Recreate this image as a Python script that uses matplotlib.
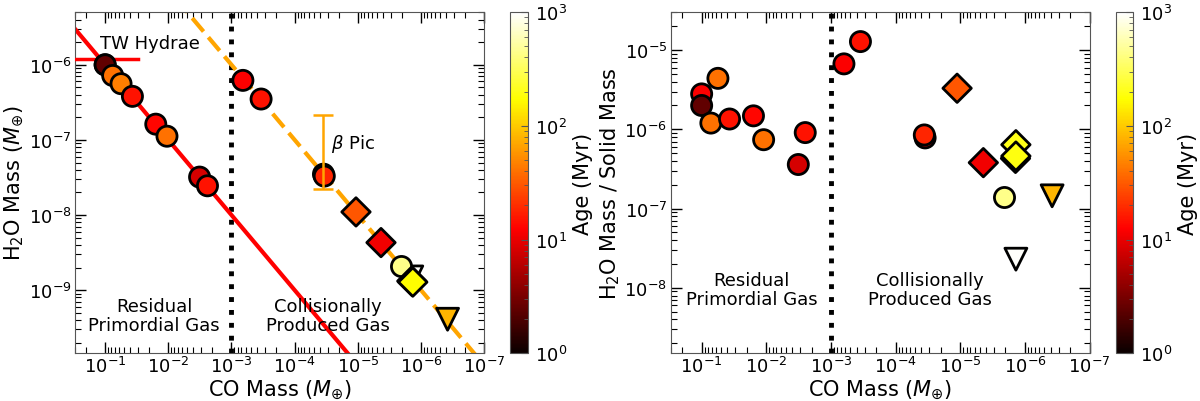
import numpy as np
import matplotlib
matplotlib.use('Agg')
import matplotlib.pyplot as plt
from matplotlib.colors import LogNorm

# ---- data ----
# left panel: CO mass vs H2O mass
prim_co = [0.1, 0.1, 0.076, 0.056, 0.037, 0.0158, 0.0105, 0.0032, 0.0024]
prim_h2o = [1.0e-6, 1.0e-6, 7.2e-7, 5.6e-7, 3.8e-7, 1.62e-7, 1.12e-7, 3.2e-8, 2.45e-8]
prim_age = [12, 2.5, 40, 45, 15, 13, 40, 8, 15]

coll_co = [6.6e-4, 3.4e-4, 3.5e-5, 3.4e-5]
coll_h2o = [6.2e-7, 3.5e-7, 3.5e-8, 3.3e-8]
coll_age = [12, 15, 8, 18]

dia_co = [1.07e-5, 4.3e-6, 1.4e-6, 1.35e-6]
dia_h2o = [1.1e-8, 4.3e-9, 1.32e-9, 1.28e-9]
dia_age = [30, 11, 200, 170]

lt_co = [2.1e-6]
lt_h2o = [2.1e-9]
lt_age = [440]

tri_co = [1.4e-6, 3.8e-7]
tri_h2o = [1.5e-9, 4.1e-10]
tri_age = [950, 80]

# right panel: CO mass vs H2O / solid mass
r_prim_co = [0.1, 0.1, 0.072, 0.056, 0.037, 0.0158, 0.011, 0.0032, 0.0025]
r_prim_ratio = [2.8e-6, 2.0e-6, 1.2e-6, 4.4e-6, 1.35e-6, 1.48e-6, 7.4e-7, 3.6e-7, 9.1e-7]
r_prim_age = [12, 2.5, 40, 40, 15, 13, 40, 8, 15]

r_coll_co = [6.3e-4, 3.5e-4, 3.5e-5, 3.6e-5]
r_coll_ratio = [6.7e-6, 1.28e-5, 7.8e-7, 8.5e-7]
r_coll_age = [12, 15, 8, 18]

r_dia_co = [1.12e-5, 4.4e-6, 1.38e-6, 1.4e-6, 1.38e-6]
r_dia_ratio = [3.3e-6, 3.8e-7, 6.4e-7, 4.3e-7, 4.6e-7]
r_dia_age = [30, 11, 200, 170, 190]

r_lt_co = [2.1e-6]
r_lt_ratio = [1.4e-7]
r_lt_age = [440]

r_tri_co = [1.38e-6, 3.8e-7]
r_tri_ratio = [2.3e-8, 1.45e-7]
r_tri_age = [950, 80]

# relations drawn in the left panel
primordial_ratio = 1e-5
collisional_ratio = 1e-3
tw_hya_limit = 1.2e-6
tw_hya_co = [0.3, 0.03]
bpic_co = 3.6e-5
bpic_range = [2.2e-8, 2.15e-7]
co_split = 1e-3

plt.rcParams['font.size'] = 13
plt.rcParams['axes.labelsize'] = 15
plt.rcParams['mathtext.fontset'] = 'dejavusans'

cmap = plt.get_cmap('hot')
norm = LogNorm(1, 1000)

fig = plt.figure(figsize=(12, 4.02), dpi=100)
ax1 = fig.add_axes([0.0625, 0.119, 0.341, 0.848])
cax1 = fig.add_axes([0.425, 0.119, 0.015, 0.848])
ax2 = fig.add_axes([0.559, 0.119, 0.349, 0.848])
cax2 = fig.add_axes([0.930, 0.119, 0.0145, 0.848])

kw = dict(cmap=cmap, norm=norm, edgecolors='black', linewidths=2, zorder=5)
sz = 210

# ---- left panel ----
xl = np.logspace(np.log10(0.3), -7, 50)
ax1.plot(xl, primordial_ratio * xl, color='red', lw=3, zorder=2)
ax1.plot(xl, collisional_ratio * xl, color='orange', lw=3, ls=(0, (4.2, 1.8)), zorder=2)
ax1.axvline(co_split, color='black', ls=':', lw=3.5, zorder=1)
ax1.plot(tw_hya_co, [tw_hya_limit, tw_hya_limit], color='red', lw=2.5, zorder=3)
mid = np.sqrt(bpic_range[0] * bpic_range[1])
ax1.errorbar([bpic_co], [mid], yerr=[[mid - bpic_range[0]], [bpic_range[1] - mid]],
             fmt='none', ecolor='orange', elinewidth=1.8, capsize=7, capthick=1.8, zorder=6)

ax1.scatter(tri_co, tri_h2o, c=tri_age, marker='v', s=sz + 40, **kw)
ax1.scatter(lt_co, lt_h2o, c=lt_age, marker='o', s=sz, **kw)
ax1.scatter(prim_co, prim_h2o, c=prim_age, marker='o', s=sz, **kw)
ax1.scatter(coll_co, coll_h2o, c=coll_age, marker='o', s=sz, **kw)
ax1.scatter(dia_co, dia_h2o, c=dia_age, marker='D', s=sz, **kw)

ax1.text(0.182, 0.91, 'TW Hydrae', transform=ax1.transAxes, ha='center', va='center')
ax1.text(0.625, 0.617, r'$\beta$ Pic', transform=ax1.transAxes, ha='left', va='center')
ax1.text(0.193, 0.11, 'Residual\nPrimordial Gas', transform=ax1.transAxes,
         ha='center', va='center', linespacing=1.05)
ax1.text(0.619, 0.11, 'Collisionally\nProduced Gas', transform=ax1.transAxes,
         ha='center', va='center', linespacing=1.05)

ax1.set_xscale('log')
ax1.set_yscale('log')
ax1.set_xlim(0.3, 1e-7)
ax1.set_ylim(1.45e-10, 5e-6)
ax1.set_xlabel(r'CO Mass ($M_{\oplus}$)', labelpad=1)
ax1.set_ylabel(r'H$_2$O Mass ($M_{\oplus}$)', labelpad=2)

# ---- right panel ----
ax2.axvline(co_split, color='black', ls=':', lw=3.5, zorder=1)
ax2.scatter(r_tri_co, r_tri_ratio, c=r_tri_age, marker='v', s=sz + 40, **kw)
ax2.scatter(r_lt_co, r_lt_ratio, c=r_lt_age, marker='o', s=sz, **kw)
ax2.scatter(r_prim_co, r_prim_ratio, c=r_prim_age, marker='o', s=sz, **kw)
ax2.scatter(r_coll_co, r_coll_ratio, c=r_coll_age, marker='o', s=sz, **kw)
ax2.scatter(r_dia_co, r_dia_ratio, c=r_dia_age, marker='D', s=sz, **kw)

ax2.text(0.193, 0.1875, 'Residual\nPrimordial Gas', transform=ax2.transAxes,
         ha='center', va='center', linespacing=1.05)
ax2.text(0.618, 0.1875, 'Collisionally\nProduced Gas', transform=ax2.transAxes,
         ha='center', va='center', linespacing=1.05)

ax2.set_xscale('log')
ax2.set_yscale('log')
ax2.set_xlim(0.3, 1e-7)
ax2.set_ylim(1.5e-9, 3e-5)
ax2.set_xlabel(r'CO Mass ($M_{\oplus}$)', labelpad=1)
ax2.set_ylabel(r'H$_2$O Mass / Solid Mass', labelpad=2)

for ax in (ax1, ax2):
    ax.tick_params(which='both', direction='in', top=True, right=True, labelsize=13)
    ax.tick_params(axis='x', which='major', pad=2)
    ax.tick_params(axis='y', which='major', pad=2.5)
    ax.tick_params(which='major', length=8, width=1)
    ax.tick_params(which='minor', length=4, width=0.8)
    for sp in ax.spines.values():
        sp.set_color('#555555')

sm = matplotlib.cm.ScalarMappable(norm=norm, cmap=cmap)
for cax in (cax1, cax2):
    cb = fig.colorbar(sm, cax=cax)
    cb.set_label('Age (Myr)', fontsize=15, labelpad=4)
    cb.ax.tick_params(which='both', direction='in', color='#555555')
    cb.ax.tick_params(which='major', length=5, labelsize=13, pad=5)
    cb.ax.tick_params(which='minor', length=3)
    cb.outline.set_edgecolor('#555555')

fig.savefig('out.png', dpi=100)
